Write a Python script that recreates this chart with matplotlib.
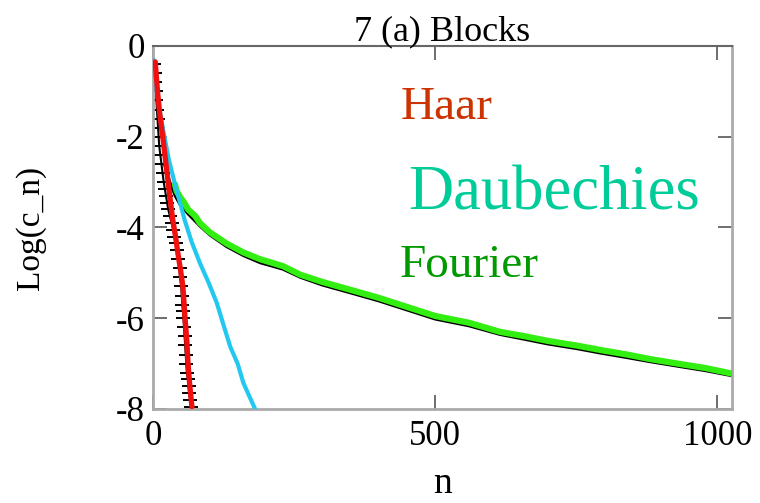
import matplotlib
matplotlib.use("Agg")
import matplotlib.pyplot as plt

plt.rcParams['font.family'] = ['Liberation Serif', 'DejaVu Serif']

# Haar (red) decay
haar_n = [4, 8, 12, 18, 24, 30, 35, 40, 44, 49, 53, 57, 60, 62, 65, 69]
haar_y = [-0.35, -1.0, -1.5, -2.07, -2.7, -3.33, -3.83, -4.2, -4.56, -4.95, -5.3, -6.03, -6.5, -6.98, -7.45, -7.95]

# Haar exact values (black, dash markers)
haar_ex_n = [2, 3, 4, 5, 6, 7, 8, 9, 10, 11, 13, 15, 17, 19, 21, 23, 25, 27, 30, 33, 36, 38,
             40, 43, 45, 47, 48, 50, 51, 52, 53, 54, 55, 56, 57, 58, 59, 60, 62, 63, 64, 66, 68]
haar_ex_y = [-0.4, -0.6, -0.8, -1.0, -1.2, -1.4, -1.6, -1.8, -2.0, -2.2, -2.4, -2.6, -2.8,
             -3.0, -3.15, -3.3, -3.45, -3.6, -3.75, -3.9, -4.05, -4.2, -4.35, -4.5, -4.7,
             -4.9, -5.1, -5.3, -5.5, -5.7, -5.85, -6.0, -6.2, -6.4, -6.6, -6.8, -7.0, -7.2,
             -7.35, -7.5, -7.65, -7.8, -7.95]

# Daubechies (blue) decay
daub_n = [1, 5, 10, 18, 28, 38, 48, 56, 68, 83, 98, 113, 125, 137, 150, 160, 170, 181]
daub_y = [-0.3, -0.8, -1.3, -1.85, -2.5, -3.0, -3.46, -3.83, -4.3, -4.78, -5.2, -5.66, -6.15, -6.63, -7.0, -7.42, -7.7, -8.0]

# Fourier (green) decay
fourier_n = [39, 42, 48, 55, 62, 75, 83, 100, 130, 160, 190, 230, 261, 300, 349, 400, 450,
             500, 560, 615, 660, 700, 750, 793, 840, 881, 930, 980, 1026]
fourier_y = [-3.05, -3.2, -3.33, -3.45, -3.6, -3.75, -3.9, -4.1, -4.35, -4.55, -4.7, -4.85,
             -5.04, -5.2, -5.37, -5.55, -5.75, -5.95, -6.1, -6.3, -6.4, -6.5, -6.6, -6.7,
             -6.8, -6.9, -7.0, -7.1, -7.22]

# Fourier exact (black, under green)
fourier_ex_n = [20, 30, 39, 48, 62, 83, 100, 130, 160, 190, 230, 261, 300, 349, 400, 450,
                500, 560, 615, 660, 700, 750, 793, 840, 881, 930, 980, 1026]
fourier_ex_y = [-2.6, -3.0, -3.3, -3.5, -3.7, -3.97, -4.16, -4.42, -4.62, -4.78, -4.92,
                -5.1, -5.27, -5.44, -5.62, -5.82, -6.02, -6.17, -6.36, -6.47, -6.57, -6.67,
                -6.77, -6.87, -6.96, -7.06, -7.16, -7.27]

xticks = [0, 500, 1000]
yticks = [0, -2, -4, -6, -8]

fig = plt.figure(figsize=(7.6, 5.03), dpi=100)
ax = fig.add_axes([0.2013, 0.1869, 0.7618, 0.7217])

ax.plot(fourier_ex_n, fourier_ex_y, color='black', lw=2.0, zorder=2)
ax.plot(haar_ex_n, haar_ex_y, color='black', lw=1.5, marker='_', ms=10, mew=1.4, zorder=2)
ax.plot(fourier_n, fourier_y, color='#33EE11', lw=4.5, zorder=3, solid_capstyle='round')
ax.plot(daub_n, daub_y, color='#22C8F0', lw=3.0, zorder=4, solid_capstyle='round')
ax.plot(haar_n, haar_y, color='#F01010', lw=3.8, zorder=5, solid_capstyle='round')

ax.set_xlim(0, 1026)
ax.set_ylim(-8, 0)
ax.set_xticks(xticks)
ax.set_yticks(yticks)
ax.set_xticklabels([str(t) for t in xticks])
ax.set_yticklabels([str(t) for t in yticks])
ax.tick_params(direction='in', length=10, width=1.2, labelsize=25, color='#555555',
               top=True, right=True)
ax.tick_params(axis='x', pad=8)
ax.tick_params(axis='y', pad=6)

for side in ['left', 'bottom', 'right']:
    ax.spines[side].set_color('#aaaaaa')
    ax.spines[side].set_linewidth(2.0)
ax.spines['top'].set_color('#666666')
ax.spines['top'].set_linewidth(1.5)

ax.set_title('7 (a) Blocks', fontsize=26, pad=4)
ax.set_xlabel('n', fontsize=27, labelpad=10)
ax.set_ylabel('Log(c_n)', fontsize=24, labelpad=50)

ax.text(438, -1.6, 'Haar', color='#CC3300', fontsize=34)
ax.text(452, -3.6, 'Daubechies', color='#00CC99', fontsize=45)
ax.text(438, -5.1, 'Fourier', color='#009900', fontsize=34)

fig.savefig('out.png', dpi=100)
